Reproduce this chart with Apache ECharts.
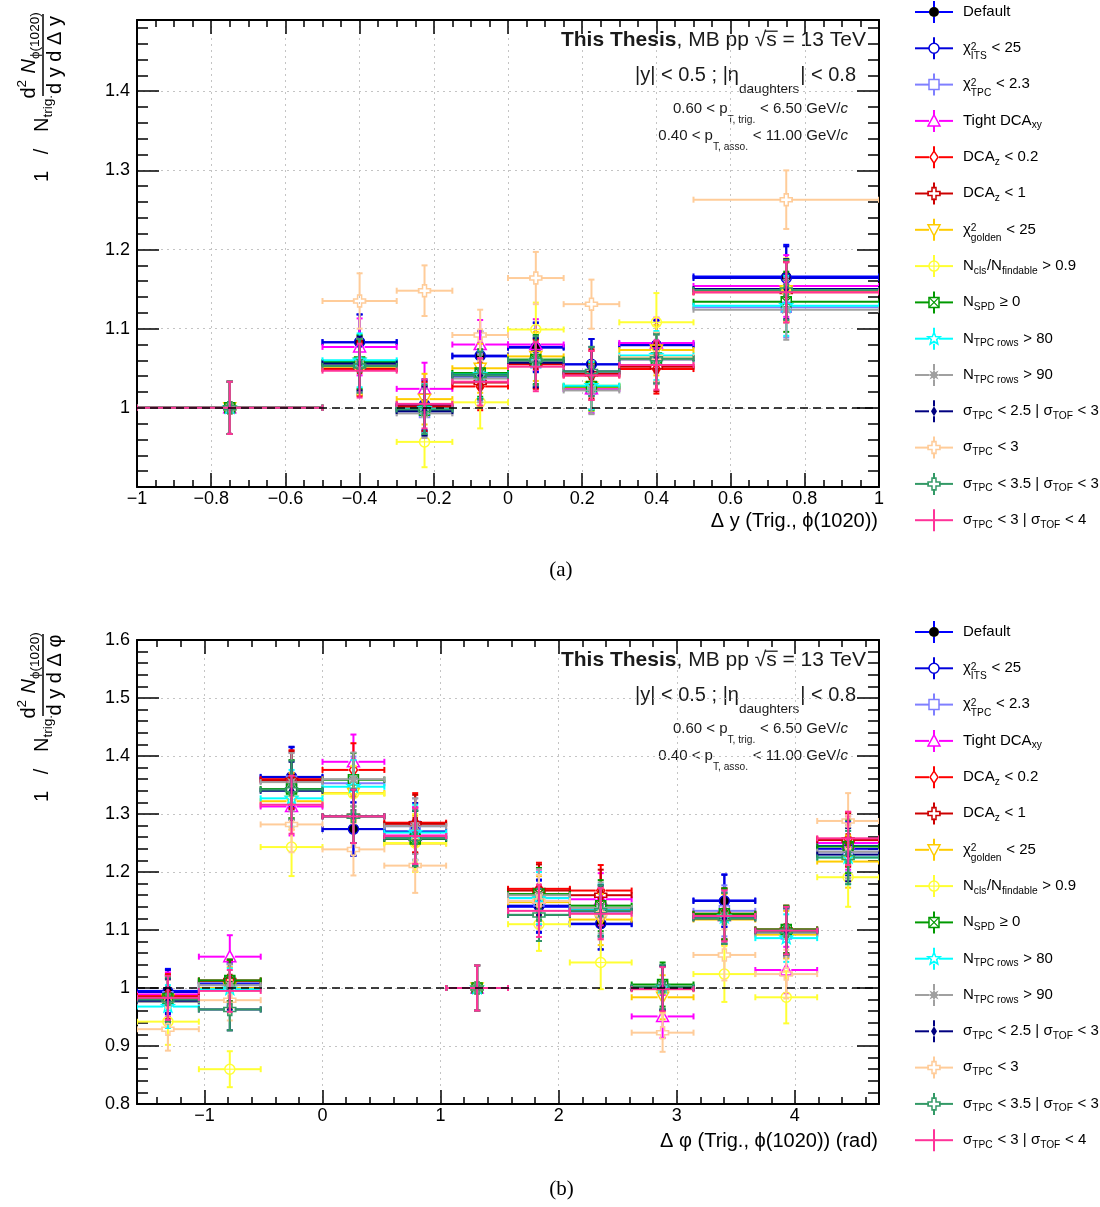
<!DOCTYPE html>
<html>
<head>
<meta charset="utf-8">
<script src="https://cdn.jsdelivr.net/npm/echarts@6.0.0/dist/echarts.min.js"></script>
<style>
html,body{margin:0;padding:0;background:#ffffff;}
#chart{width:1100px;height:1207px;}
</style>
</head>
<body>
<div id="chart"></div>
<script>
// ================= DATA =================
const seriesNames = [
  'Default',
  'χ^{2}_{ITS} < 25',
  'χ^{2}_{TPC} < 2.3',
  'Tight DCA_{xy}',
  'DCA_{z} < 0.2',
  'DCA_{z} < 1',
  'χ^{2}_{golden} < 25',
  'N_{cls}/N_{findable} > 0.9',
  'N_{SPD} ≥ 0',
  'N_{TPC rows} > 80',
  'N_{TPC rows} > 90',
  'σ_{TPC} < 2.5 | σ_{TOF} < 3',
  'σ_{TPC} < 3',
  'σ_{TPC} < 3.5 | σ_{TOF} < 3',
  'σ_{TPC} < 3 | σ_{TOF} < 4'
];

// Panel (a): Δy bins
const dyCenters    = [-0.75, -0.4, -0.225, -0.075, 0.075, 0.225, 0.4, 0.75];
const dyHalfWidths = [0.25, 0.1, 0.075, 0.075, 0.075, 0.075, 0.1, 0.25];
const dyVals = [
  [1.000, 1.083, 1.002, 1.065, 1.077, 1.055, 1.080, 1.166],
  [1.000, 1.083, 1.004, 1.066, 1.076, 1.055, 1.079, 1.164],
  [1.000, 1.054, 0.994, 1.039, 1.057, 1.024, 1.061, 1.127],
  [1.000, 1.077, 1.024, 1.080, 1.080, 1.024, 1.082, 1.154],
  [1.000, 1.049, 1.000, 1.027, 1.055, 1.041, 1.049, 1.146],
  [1.000, 1.051, 1.002, 1.032, 1.056, 1.043, 1.052, 1.147],
  [1.000, 1.057, 1.011, 1.050, 1.065, 1.026, 1.073, 1.148],
  [1.000, 1.052, 0.957, 1.007, 1.099, 1.028, 1.108, 1.149],
  [1.000, 1.058, 0.997, 1.044, 1.061, 1.027, 1.063, 1.134],
  [1.000, 1.060, 0.999, 1.042, 1.058, 1.028, 1.066, 1.129],
  [1.000, 1.055, 0.993, 1.037, 1.059, 1.022, 1.061, 1.124],
  [1.000, 1.056, 0.996, 1.041, 1.057, 1.046, 1.063, 1.150],
  [1.000, 1.135, 1.148, 1.092, 1.164, 1.131, 1.064, 1.263],
  [1.000, 1.053, 0.998, 1.041, 1.060, 1.046, 1.062, 1.149],
  [1.000, 1.047, 1.005, 1.033, 1.052, 1.041, 1.054, 1.146]
];
const dyErrs = [
  [0.033, 0.035, 0.032, 0.031, 0.031, 0.032, 0.031, 0.040],
  [0.033, 0.035, 0.032, 0.031, 0.031, 0.032, 0.031, 0.040],
  [0.033, 0.034, 0.031, 0.030, 0.031, 0.030, 0.031, 0.038],
  [0.033, 0.036, 0.033, 0.031, 0.032, 0.031, 0.032, 0.039],
  [0.033, 0.034, 0.031, 0.030, 0.031, 0.031, 0.031, 0.038],
  [0.033, 0.034, 0.031, 0.030, 0.031, 0.031, 0.031, 0.038],
  [0.033, 0.034, 0.032, 0.031, 0.031, 0.030, 0.032, 0.039],
  [0.033, 0.035, 0.032, 0.033, 0.034, 0.031, 0.037, 0.040],
  [0.033, 0.034, 0.031, 0.030, 0.031, 0.030, 0.031, 0.038],
  [0.033, 0.034, 0.031, 0.030, 0.031, 0.030, 0.031, 0.038],
  [0.033, 0.034, 0.031, 0.030, 0.031, 0.030, 0.031, 0.038],
  [0.033, 0.034, 0.031, 0.030, 0.031, 0.031, 0.031, 0.038],
  [0.033, 0.035, 0.032, 0.032, 0.033, 0.031, 0.031, 0.037],
  [0.033, 0.034, 0.031, 0.030, 0.031, 0.031, 0.031, 0.038],
  [0.033, 0.034, 0.031, 0.030, 0.031, 0.031, 0.031, 0.038]
];

// Panel (b): Δφ bins (rad)
const dphiCenters  = [-1.309, -0.785, -0.262, 0.262, 0.785, 1.309, 1.833, 2.356, 2.880, 3.403, 3.927, 4.451];
const dphiHalfWidth = 0.2618;
const dphiVals = [
  [0.995, 1.005, 1.363, 1.274, 1.262, 1.000, 1.140, 1.110, 1.000, 1.151, 1.098, 1.245],
  [0.993, 1.008, 1.364, 1.274, 1.270, 1.000, 1.142, 1.111, 0.999, 1.150, 1.096, 1.240],
  [0.985, 1.010, 1.357, 1.353, 1.279, 1.000, 1.150, 1.130, 1.002, 1.133, 1.093, 1.235],
  [0.989, 1.054, 1.313, 1.390, 1.263, 1.000, 1.155, 1.153, 0.951, 1.125, 1.031, 1.250],
  [0.986, 1.012, 1.360, 1.376, 1.285, 1.000, 1.171, 1.168, 1.000, 1.128, 1.101, 1.257],
  [0.984, 1.013, 1.358, 1.296, 1.283, 1.000, 1.168, 1.160, 1.001, 1.127, 1.100, 1.255],
  [0.980, 1.000, 1.322, 1.336, 1.249, 1.000, 1.148, 1.118, 0.984, 1.118, 1.092, 1.218],
  [0.942, 0.860, 1.243, 1.335, 1.250, 1.000, 1.110, 1.044, 0.998, 1.024, 0.984, 1.191],
  [0.982, 1.013, 1.343, 1.359, 1.257, 1.000, 1.162, 1.142, 1.006, 1.128, 1.101, 1.244],
  [0.968, 0.998, 1.327, 1.347, 1.268, 1.000, 1.155, 1.135, 1.001, 1.122, 1.086, 1.225],
  [0.976, 1.005, 1.355, 1.360, 1.279, 1.000, 1.160, 1.138, 0.999, 1.124, 1.095, 1.235],
  [0.978, 0.963, 1.340, 1.296, 1.258, 1.000, 1.126, 1.133, 1.000, 1.120, 1.098, 1.230],
  [0.929, 0.979, 1.282, 1.239, 1.211, 1.000, 1.150, 1.128, 0.923, 1.057, 1.024, 1.288],
  [0.980, 0.963, 1.342, 1.296, 1.258, 1.000, 1.126, 1.133, 1.002, 1.120, 1.098, 1.225],
  [0.983, 0.995, 1.316, 1.296, 1.262, 1.000, 1.133, 1.128, 0.998, 1.124, 1.099, 1.258]
];
const dphiErrs = [
  [0.038, 0.036, 0.052, 0.046, 0.049, 0.039, 0.045, 0.044, 0.038, 0.045, 0.041, 0.046],
  [0.038, 0.036, 0.052, 0.046, 0.049, 0.039, 0.045, 0.044, 0.038, 0.045, 0.041, 0.046],
  [0.037, 0.036, 0.049, 0.046, 0.048, 0.039, 0.045, 0.044, 0.038, 0.044, 0.041, 0.046],
  [0.038, 0.037, 0.050, 0.047, 0.049, 0.039, 0.046, 0.045, 0.037, 0.044, 0.040, 0.046],
  [0.038, 0.036, 0.050, 0.046, 0.051, 0.039, 0.045, 0.044, 0.038, 0.044, 0.041, 0.046],
  [0.038, 0.036, 0.050, 0.046, 0.050, 0.039, 0.045, 0.044, 0.038, 0.044, 0.041, 0.046],
  [0.037, 0.036, 0.049, 0.046, 0.048, 0.039, 0.045, 0.044, 0.038, 0.044, 0.041, 0.045],
  [0.040, 0.031, 0.050, 0.048, 0.050, 0.039, 0.046, 0.046, 0.040, 0.048, 0.045, 0.051],
  [0.038, 0.036, 0.050, 0.046, 0.048, 0.039, 0.045, 0.044, 0.038, 0.044, 0.041, 0.046],
  [0.037, 0.036, 0.049, 0.046, 0.048, 0.039, 0.045, 0.044, 0.038, 0.044, 0.041, 0.046],
  [0.038, 0.036, 0.050, 0.046, 0.048, 0.039, 0.045, 0.044, 0.038, 0.044, 0.041, 0.046],
  [0.038, 0.036, 0.050, 0.046, 0.048, 0.039, 0.045, 0.044, 0.038, 0.044, 0.041, 0.046],
  [0.037, 0.035, 0.048, 0.045, 0.047, 0.039, 0.045, 0.044, 0.033, 0.044, 0.042, 0.048],
  [0.038, 0.036, 0.050, 0.046, 0.048, 0.039, 0.045, 0.044, 0.038, 0.044, 0.041, 0.046],
  [0.038, 0.036, 0.050, 0.046, 0.048, 0.039, 0.045, 0.044, 0.038, 0.044, 0.041, 0.046]
];

// Tick values for the Δφ axis
const dphiMajorTicks = [-1, 0, 1, 2, 3, 4];
const dphiMinorTicks = [-1.4, -1.2, -0.8, -0.6, -0.4, -0.2, 0.2, 0.4, 0.6, 0.8, 1.2, 1.4, 1.6, 1.8,
                        2.2, 2.4, 2.6, 2.8, 3.2, 3.4, 3.6, 3.8, 4.2, 4.4, 4.6];

// ================= STYLE =================
const lineColors   = ['#0000ff','#0000dd','#7f7fff','#ff00ff','#ff0000','#cc0000','#ffcc00','#ffff33',
                      '#009900','#00ffff','#a0a0a0','#000080','#ffcc99','#339966','#ff3399'];
const markerColors = ['#000000','#0000dd','#7f7fff','#ff00ff','#ff0000','#cc0000','#ffcc00','#ffff33',
                      '#009900','#00ffff','#a0a0a0','#000080','#ffcc99','#339966','#ff3399'];
const markerTypes  = ['fcircle','ocircle','osquare','otri','odiamond','ocross','oitri','ocircleplus',
                      'osquarex','ostar','fstar','fdiamond','ocross','ocross','none'];

const FONT = 'Liberation Sans';
const mctx = document.createElement('canvas').getContext('2d');
function tw(t, s, w, st) {
  mctx.font = (st || 'normal') + ' ' + (w || 'normal') + ' ' + s + 'px "' + FONT + '"';
  return mctx.measureText(t).width;
}

// minimal TLatex-like parser: _{sub}, ^{sup}, #bf{..}, #it{..}, #sqrt{..}
function parseLatex(str) {
  const toks = []; let buf = ''; let i = 0;
  const flush = () => { if (buf) { toks.push({k: 'n', t: buf}); buf = ''; } };
  function readGroup(j) {
    let depth = 0, k = j;
    for (; k < str.length; k++) {
      if (str[k] === '{') depth++;
      else if (str[k] === '}') { depth--; if (!depth) break; }
    }
    return [str.slice(j + 1, k), k + 1];
  }
  while (i < str.length) {
    if (str.startsWith('#sqrt{', i)) {
      flush();
      const r = readGroup(i + 5);
      toks.push({k: 'sqrt', t: r[0]});
      i = r[1]; continue;
    }
    if (str.startsWith('#bf{', i) || str.startsWith('#it{', i)) {
      flush();
      const bold = str[i + 1] === 'b';
      const r = readGroup(i + 3);
      toks.push({k: 'n', t: r[0], b: bold, it: !bold});
      i = r[1]; continue;
    }
    if ((str[i] === '^' || str[i] === '_') && str[i + 1] === '{') {
      flush();
      const first = str[i];
      const r = readGroup(i + 1);
      const tok = {k: first === '^' ? 'sup' : 'sub', t: r[0]};
      i = r[1];
      const other = first === '^' ? '_' : '^';
      if (str[i] === other && str[i + 1] === '{') {
        const r2 = readGroup(i + 1);
        tok.k = 'stack';
        if (first === '^') { tok.sup = r[0]; tok.sub = r2[0]; } else { tok.sup = r2[0]; tok.sub = r[0]; }
        i = r2[1];
      }
      toks.push(tok); continue;
    }
    buf += str[i]; i++;
  }
  flush();
  return toks;
}

function latex(x, base, str, size, align, opt) {
  opt = opt || {};
  const col = opt.color || '#000';
  const subS = Math.round(size * 0.68 * 10) / 10;
  const toks = parseLatex(str);
  let cx = 0, prev = '';
  const items = [];
  toks.forEach(tk => {
    if (tk.k === 'n') {
      const w = tw(tk.t, size, tk.b ? 'bold' : 'normal', tk.it ? 'italic' : 'normal');
      items.push({t: tk.t, x: cx, dy: 0, s: size, b: tk.b, it: tk.it});
      cx += w; prev = tk.t[tk.t.length - 1];
    } else if (tk.k === 'sqrt') {
      const w1 = tw('√', size), w2 = tw(tk.t, size);
      items.push({t: '√', x: cx, dy: 0, s: size});
      items.push({t: tk.t, x: cx + w1, dy: 0, s: size});
      items.push({line: true, x: cx + w1 * 0.9, x2: cx + w1 + w2 + 1, dy: -0.8 * size});
      cx += w1 + w2; prev = tk.t[tk.t.length - 1];
    } else {
      const desc = /[χηpϕφgyjq]/.test(prev);
      const asc = /[A-Zdbfhklt0-9()|]/.test(prev);
      let w = 0;
      if (tk.k === 'sub' || tk.k === 'stack') {
        const t = tk.k === 'sub' ? tk.t : tk.sub;
        const dy = tk.k === 'stack' ? size * 0.45 : (desc ? size * 0.62 : size * 0.22);
        items.push({t: t, x: cx, dy: dy, s: subS});
        w = Math.max(w, tw(t, subS));
      }
      if (tk.k === 'sup' || tk.k === 'stack') {
        const t = tk.k === 'sup' ? tk.t : tk.sup;
        const dy = asc ? -size * 0.45 : -size * 0.2;
        items.push({t: t, x: cx, dy: dy, s: subS});
        w = Math.max(w, tw(t, subS));
      }
      cx += w + size * 0.04; prev = '';
    }
  });
  const x0 = align === 'right' ? x - cx : (align === 'center' ? x - cx / 2 : x);
  return items.map(it => it.line ? {
    type: 'line', silent: true,
    shape: {x1: x0 + it.x, y1: base + it.dy, x2: x0 + it.x2, y2: base + it.dy},
    style: {stroke: col, lineWidth: 1.3}
  } : {
    type: 'text', x: x0 + it.x, y: base + it.dy - 0.35 * it.s, silent: true,
    style: {text: it.t, fontSize: it.s, fontFamily: opt.family || FONT,
            fontWeight: it.b ? 'bold' : 'normal', fontStyle: it.it ? 'italic' : 'normal',
            fill: col, align: 'left', verticalAlign: 'middle'}
  });
}

function seg(x1, y1, x2, y2, color, w) {
  return {type: 'line', silent: true, shape: {x1: x1, y1: y1, x2: x2, y2: y2},
          style: {stroke: color, lineWidth: w || 2}};
}
function starPts(cx, cy, n, R, r) {
  const p = [];
  for (let k = 0; k < 2 * n; k++) {
    const a = -Math.PI / 2 + k * Math.PI / n;
    const rr = k % 2 ? r : R;
    p.push([cx + rr * Math.cos(a), cy + rr * Math.sin(a)]);
  }
  return p;
}
function markerEls(type, cx, cy, col) {
  const S = {stroke: col, fill: 'none', lineWidth: 1.5};
  const poly = pts => ({type: 'polygon', silent: true, shape: {points: pts}, style: S});
  switch (type) {
    case 'fcircle': return [{type: 'circle', silent: true, shape: {cx: cx, cy: cy, r: 5}, style: {fill: col}}];
    case 'ocircle': return [{type: 'circle', silent: true, shape: {cx: cx, cy: cy, r: 5}, style: S}];
    case 'osquare': return [{type: 'rect', silent: true, shape: {x: cx - 5, y: cy - 5, width: 10, height: 10}, style: S}];
    case 'otri': return [poly([[cx, cy - 6], [cx + 6, cy + 5], [cx - 6, cy + 5]])];
    case 'oitri': return [poly([[cx, cy + 6], [cx + 6, cy - 5], [cx - 6, cy - 5]])];
    case 'odiamond': return [poly([[cx, cy - 6], [cx + 4, cy], [cx, cy + 6], [cx - 4, cy]])];
    case 'ocross': {
      const a = 6, b = 2;
      return [poly([[cx - b, cy - a], [cx + b, cy - a], [cx + b, cy - b], [cx + a, cy - b], [cx + a, cy + b], [cx + b, cy + b],
                    [cx + b, cy + a], [cx - b, cy + a], [cx - b, cy + b], [cx - a, cy + b], [cx - a, cy - b], [cx - b, cy - b]])];
    }
    case 'ocircleplus': return [{type: 'circle', silent: true, shape: {cx: cx, cy: cy, r: 5}, style: S},
                                seg(cx - 5, cy, cx + 5, cy, col, 1.2), seg(cx, cy - 5, cx, cy + 5, col, 1.2)];
    case 'osquarex': return [{type: 'rect', silent: true, shape: {x: cx - 5, y: cy - 5, width: 10, height: 10}, style: S},
                             seg(cx - 5, cy - 5, cx + 5, cy + 5, col, 1.2), seg(cx - 5, cy + 5, cx + 5, cy - 5, col, 1.2)];
    case 'ostar': return [poly(starPts(cx, cy, 5, 6.5, 2.8))];
    case 'fstar': return [{type: 'polygon', silent: true, shape: {points: starPts(cx, cy, 8, 6.5, 3)}, style: {fill: col}}];
    case 'fdiamond': return [{type: 'polygon', silent: true, shape: {points: [[cx, cy - 5], [cx + 3, cy], [cx, cy + 5], [cx - 3, cy]]}, style: {fill: col}}];
    default: return [];
  }
}

function makeRender(si) {
  return function (params, api) {
    const xc = api.value(0), y = api.value(1), hw = api.value(2), e = api.value(3);
    const p = api.coord([xc, y]);
    const pl = api.coord([xc - hw, y]);
    const pr = api.coord([xc + hw, y]);
    const pt = api.coord([xc, y + e]);
    const pb = api.coord([xc, y - e]);
    const lc = lineColors[si];
    const g = markerTypes[si] === 'none' ? 0 : 5;
    const ch = [];
    ch.push(seg(pl[0], p[1], p[0] - g, p[1], lc));
    ch.push(seg(p[0] + g, p[1], pr[0], p[1], lc));
    ch.push(seg(p[0], pt[1], p[0], p[1] - g, lc));
    ch.push(seg(p[0], p[1] + g, p[0], pb[1], lc));
    ch.push(seg(pl[0], p[1] - 3, pl[0], p[1] + 3, lc));
    ch.push(seg(pr[0], p[1] - 3, pr[0], p[1] + 3, lc));
    ch.push(seg(p[0] - 3, pt[1], p[0] + 3, pt[1], lc));
    ch.push(seg(p[0] - 3, pb[1], p[0] + 3, pb[1], lc));
    markerEls(markerTypes[si], p[0], p[1], markerColors[si]).forEach(m => ch.push(m));
    return {type: 'group', children: ch};
  };
}

// ================= AXES =================
const frameLine = {show: true, onZero: false, lineStyle: {color: '#000', width: 2}};
const dotted = {show: true, lineStyle: {color: '#c4c4c4', type: [2, 4], width: 1}};
const tickStyle = {color: '#000', width: 1.5};
const lblStyle = {fontSize: 18, fontFamily: FONT, color: '#000'};
function fmt1(v) {
  const r = Math.round(v * 10) / 10;
  return (r < 0 ? '−' : '') + String(Math.abs(r));
}
function yFmt(lo) {
  return v => (v < lo + 0.05 && lo === 0.9) || Math.abs(v * 10 - Math.round(v * 10)) > 1e-6 ? '' : fmt1(v);
}

const PI = Math.PI;
const xAxes = [
  {gridIndex: 0, type: 'value', position: 'bottom', min: -1, max: 1, interval: 0.2,
   axisLine: frameLine, axisTick: {inside: true, length: 14, lineStyle: tickStyle},
   minorTick: {show: true, splitNumber: 4, length: 7, lineStyle: tickStyle},
   splitLine: dotted, axisLabel: Object.assign({margin: 3, formatter: fmt1}, lblStyle)},
  {gridIndex: 0, type: 'value', position: 'top', min: -1, max: 1, interval: 0.2,
   axisLine: frameLine, axisTick: {inside: true, length: 14, lineStyle: tickStyle},
   minorTick: {show: true, splitNumber: 4, length: 7, lineStyle: tickStyle},
   splitLine: {show: false}, axisLabel: {show: false}},
  {gridIndex: 1, type: 'value', position: 'bottom', min: -PI / 2, max: 3 * PI / 2,
   axisLine: frameLine, axisTick: {inside: true, length: 14, lineStyle: tickStyle, customValues: dphiMajorTicks},
   splitLine: dotted, axisLabel: Object.assign({margin: 3, formatter: fmt1, customValues: dphiMajorTicks}, lblStyle)},
  {gridIndex: 1, type: 'value', position: 'bottom', min: -PI / 2, max: 3 * PI / 2,
   axisLine: {show: false, onZero: false}, axisTick: {inside: true, length: 7, lineStyle: tickStyle, customValues: dphiMinorTicks},
   splitLine: {show: false}, axisLabel: {show: false}},
  {gridIndex: 1, type: 'value', position: 'top', min: -PI / 2, max: 3 * PI / 2,
   axisLine: frameLine, axisTick: {inside: true, length: 14, lineStyle: tickStyle, customValues: dphiMajorTicks},
   splitLine: {show: false}, axisLabel: {show: false}},
  {gridIndex: 1, type: 'value', position: 'top', min: -PI / 2, max: 3 * PI / 2,
   axisLine: {show: false, onZero: false}, axisTick: {inside: true, length: 7, lineStyle: tickStyle, customValues: dphiMinorTicks},
   splitLine: {show: false}, axisLabel: {show: false}}
];
function yAx(grid, pos, lo, hi, labels) {
  return {gridIndex: grid, type: 'value', position: pos, min: lo, max: hi, interval: 0.1,
    axisLine: frameLine, axisTick: {inside: true, length: 22, lineStyle: tickStyle},
    minorTick: {show: true, splitNumber: 5, length: 11, lineStyle: tickStyle},
    splitLine: labels ? dotted : {show: false},
    axisLabel: labels ? Object.assign({margin: 7, formatter: yFmt(lo)}, lblStyle) : {show: false}};
}
const yAxes = [yAx(0, 'left', 0.9, 1.49, true), yAx(0, 'right', 0.9, 1.49, false),
               yAx(1, 'left', 0.8, 1.6, true), yAx(1, 'right', 0.8, 1.6, false)];

// ================= SERIES =================
const series = [];
[[0, 0], [2, 2]].forEach(ax => {
  series.push({type: 'line', xAxisIndex: ax[0], yAxisIndex: ax[1], data: [], z: 1, silent: true, symbol: 'none',
    markLine: {silent: true, symbol: ['none', 'none'], label: {show: false},
      lineStyle: {color: '#000', type: [8, 5], width: 1.5}, data: [{yAxis: 1}]}});
});
seriesNames.forEach((nm, i) => {
  series.push({type: 'custom', name: nm, xAxisIndex: 0, yAxisIndex: 0, z: 3, clip: true,
    renderItem: makeRender(i), encode: {x: 0, y: 1},
    data: dyCenters.map((c, j) => [c, dyVals[i][j], dyHalfWidths[j], dyErrs[i][j]])});
});
seriesNames.forEach((nm, i) => {
  series.push({type: 'custom', name: nm, xAxisIndex: 2, yAxisIndex: 2, z: 3, clip: true,
    renderItem: makeRender(i), encode: {x: 0, y: 1},
    data: dphiCenters.map((c, j) => [c, dphiVals[i][j], dphiHalfWidth, dphiErrs[i][j]])});
});

// ================= GRAPHICS (legend, texts) =================
const G = [];
function legend(top) {
  const step = 36.3;
  seriesNames.forEach((nm, i) => {
    const yc = top + i * step;
    const g = markerTypes[i] === 'none' ? 0 : 5;
    G.push(seg(915, yc, 934 - g, yc, lineColors[i]));
    G.push(seg(934 + g, yc, 953, yc, lineColors[i]));
    G.push(seg(934, yc - 11, 934, yc - g, lineColors[i]));
    G.push(seg(934, yc + g, 934, yc + 11, lineColors[i]));
    markerEls(markerTypes[i], 934, yc, markerColors[i]).forEach(e => G.push(e));
    latex(963, yc + 5, nm, 15, 'left').forEach(e => G.push(e));
  });
}
legend(12);
legend(632);

function annotations(off) {
  latex(866, 48 + off, '#bf{This Thesis}, MB pp #sqrt{s} = 13 TeV', 21, 'right', {color: '#1a1a1a'}).forEach(e => G.push(e));
  latex(856, 82 + off, '|y| < 0.5 ; |η_{daughters}| < 0.8', 20, 'right', {color: '#1a1a1a'}).forEach(e => G.push(e));
  latex(848, 114 + off, '0.60 < p_{T, trig.} < 6.50 GeV/#it{c}', 15, 'right', {color: '#1a1a1a'}).forEach(e => G.push(e));
  latex(848, 141 + off, '0.40 < p_{T, asso.} < 11.00 GeV/#it{c}', 15, 'right', {color: '#1a1a1a'}).forEach(e => G.push(e));
}
annotations(0);
annotations(620);

latex(878, 528, 'Δ y (Trig., ϕ(1020))', 20, 'right').forEach(e => G.push(e));
latex(878, 1148, 'Δ φ (Trig., ϕ(1020)) (rad)', 20, 'right').forEach(e => G.push(e));

function yTitle(top, lastVar) {
  const ch = [];
  latex(0, 7, '1   /   N_{trig.}', 20, 'left').forEach(e => ch.push(e));
  latex(127, -6, 'd^{2} #it{N}_{ϕ(1020)}', 20, 'center').forEach(e => ch.push(e));
  ch.push({type: 'line', silent: true, shape: {x1: 86, y1: 1, x2: 168, y2: 1}, style: {stroke: '#000', lineWidth: 1.5}});
  latex(127, 20, 'd y d Δ ' + lastVar, 20, 'center').forEach(e => ch.push(e));
  G.push({type: 'group', x: 42, y: top, rotation: Math.PI / 2, children: ch});
}
yTitle(182, 'y');
yTitle(802, 'φ');

latex(562, 578, '(a)', 21, 'center', {family: 'Liberation Serif'}).forEach(e => G.push(e));
latex(562, 1197, '(b)', 21, 'center', {family: 'Liberation Serif'}).forEach(e => G.push(e));

// ================= CHART =================
const chart = echarts.init(document.getElementById('chart'), null, {renderer: 'canvas'});
chart.setOption({
  animation: false,
  backgroundColor: '#ffffff',
  grid: [
    {left: 137, top: 20, width: 742, height: 467, containLabel: false},
    {left: 137, top: 640, width: 742, height: 464, containLabel: false}
  ],
  xAxis: xAxes,
  yAxis: yAxes,
  series: series,
  graphic: G
});
</script>
</body>
</html>
